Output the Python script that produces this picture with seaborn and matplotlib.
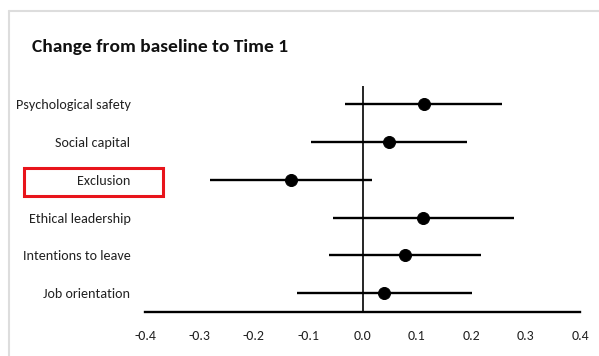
import pandas as pd
import seaborn as sns
import matplotlib.pyplot as plt
from matplotlib.patches import Rectangle
from matplotlib.lines import Line2D

# values
outcomes = ['Psychological safety', 'Social capital', 'Exclusion',
            'Ethical leadership', 'Intentions to leave', 'Job orientation']
estimate = [0.113, 0.049, -0.131, 0.112, 0.078, 0.039]
ci_low = [-0.033, -0.095, -0.280, -0.055, -0.061, -0.120]
ci_high = [0.257, 0.192, 0.017, 0.279, 0.218, 0.201]
xticks = [-0.4, -0.3, -0.2, -0.1, 0.0, 0.1, 0.2, 0.3, 0.4]

df = pd.DataFrame({'outcome': outcomes, 'estimate': estimate,
                   'low': ci_low, 'high': ci_high})
df['pos'] = range(len(df))

sns.set_style('white')
plt.rcParams['font.family'] = ['Carlito', 'DejaVu Sans']

fig = plt.figure(figsize=(5.99, 3.56), dpi=100)
ax = fig.add_axes([145 / 599, 1 - 312 / 356, 435 / 599, (312 - 86) / 356])

ax.hlines(df['pos'], df['low'], df['high'], color='black', lw=1.7, zorder=2)
ax.axvline(0, color='black', lw=1.2, zorder=1)
sns.scatterplot(data=df, x='estimate', y='pos', ax=ax, color='black',
                s=75, marker='o', edgecolor='black', zorder=3, legend=False)

ax.set_xlim(-0.4, 0.4)
ax.set_ylim(5.5, -0.48)
ax.set_xticks(xticks)
ax.set_xticklabels([f'{t:.1f}' for t in xticks], fontsize=10, color='#222222')
ax.set_yticks(df['pos'])
ax.set_yticklabels(df['outcome'], fontsize=10.2, color='#222222')
ax.tick_params(axis='x', length=0, pad=13)
ax.tick_params(axis='y', length=0, pad=10.5)
ax.set_xlabel('')
ax.set_ylabel('')
for s in ['top', 'right', 'left']:
    ax.spines[s].set_visible(False)
ax.spines['bottom'].set_color('black')
ax.spines['bottom'].set_linewidth(1.7)

fig.text(32 / 599, 1 - 47 / 356, 'Change from baseline to Time 1',
         fontsize=14, fontweight='bold', va='center', ha='left', color='#111111')

# highlight box around the Exclusion label
fig.patches.append(Rectangle((24 / 599, 1 - 196 / 356), 139 / 599, 28 / 356,
                             transform=fig.transFigure, fill=False,
                             edgecolor='#e8141b', lw=2.2))

# light grey frame of the original screenshot
fig.lines.append(Line2D([9 / 599, 1], [1 - 11 / 356, 1 - 11 / 356],
                        transform=fig.transFigure, color='#dddddd', lw=1.5))
fig.lines.append(Line2D([9 / 599, 9 / 599], [0, 1 - 11 / 356],
                        transform=fig.transFigure, color='#dddddd', lw=1.5))

fig.savefig('out.png', dpi=100)
